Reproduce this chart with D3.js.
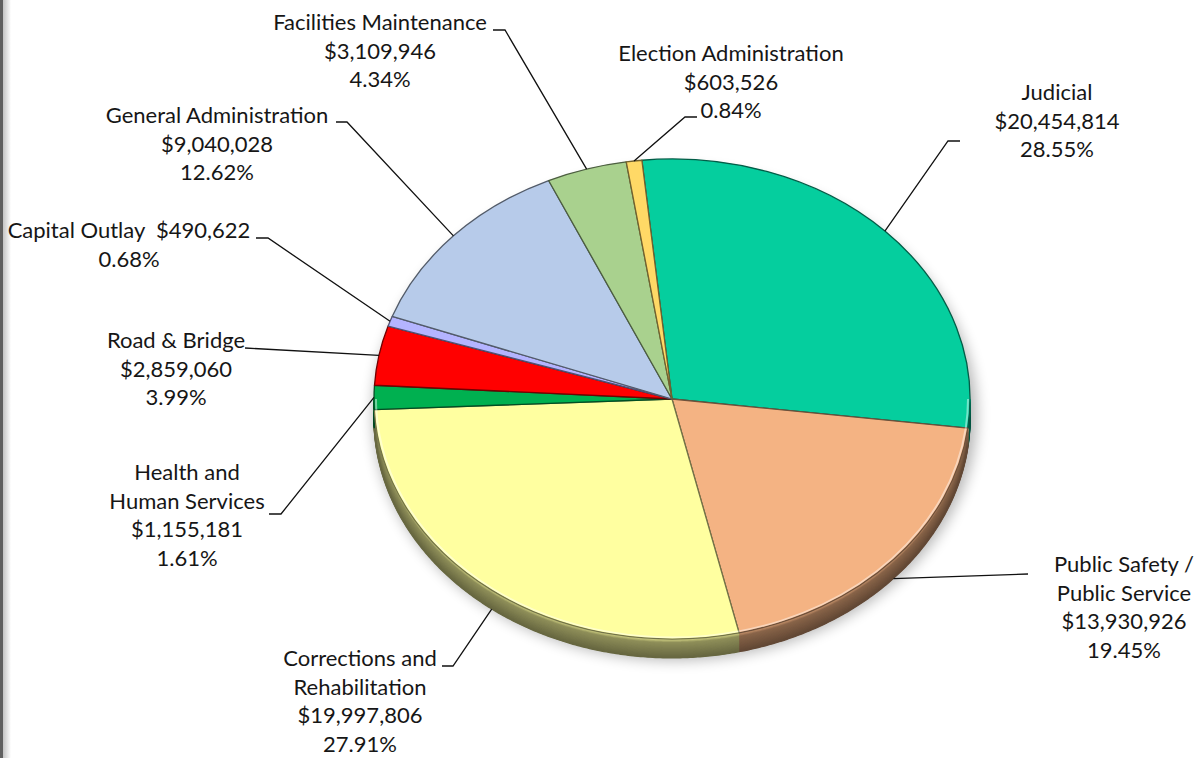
<!DOCTYPE html>
<html>
<head>
<meta charset="utf-8">
<script src="https://cdn.jsdelivr.net/npm/d3@7"></script>
<style>
  body { margin: 0; background: #fff; }
  svg { display: block; }
  text { font-family: Lato, "Open Sans", sans-serif; font-size: 22px; fill: #161616; }
</style>
</head>
<body>
<svg id="chart" width="1195" height="758"></svg>
<script>
// Budget by function
const categories = [
  "Judicial", "Public Safety / Public Service", "Corrections and Rehabilitation",
  "Health and Human Services", "Road & Bridge", "Capital Outlay",
  "General Administration", "Facilities Maintenance", "Election Administration"
];
const amounts = [20454814, 13930926, 19997806, 1155181, 2859060, 490622, 9040028, 3109946, 603526];
const colors = ["#05CE9E", "#F4B383", "#FFFFA0", "#00B050", "#FF0000", "#B4B4FF", "#B7CBEA", "#A9D18E", "#FFD966"];

// How each category name wraps in its label
const labelLines = [
  ["Judicial"], ["Public Safety /", "Public Service"], ["Corrections and", "Rehabilitation"],
  ["Health and", "Human Services"], ["Road & Bridge"], ["Capital Outlay"],
  ["General Administration"], ["Facilities Maintenance"], ["Election Administration"]
];

// Label anchors (centre x, first baseline) and leader elbows
const labelLayout = [
  { x: 1057, y: 100, leader: [[960, 141], [948, 141]] },
  { x: 1124, y: 572, leader: [[1028, 574]] },
  { x: 360,  y: 666, leader: [[442, 666], [453, 666]] },
  { x: 187,  y: 480, leader: [[269, 514], [281, 514]] },
  { x: 176,  y: 348, leader: [[245, 348]] },
  { x: 129,  y: 238, inline: true, leader: [[256, 238], [268, 238]] },
  { x: 217,  y: 123, leader: [[336, 122], [347, 122]] },
  { x: 380,  y: 30,  leader: [[493, 30], [505, 30]] },
  { x: 731,  y: 61,  leader: [[697, 117], [685, 117]] }
];

const W = 1195, H = 758;
const cx = 672, cy = 399, rx = 298, ry = 240, depth = 19;
const lineH = 28.5;
const firstAngle = -5.8 * Math.PI / 180;

const svg = d3.select("#chart");
const defs = svg.append("defs");

// left frame edge
const edgeGrad = defs.append("linearGradient").attr("id", "edgeGrad");
edgeGrad.append("stop").attr("offset", 0).attr("stop-color", "#c4c4c4");
edgeGrad.append("stop").attr("offset", 1).attr("stop-color", "#ffffff");
svg.append("rect").attr("x", 3).attr("y", 0).attr("width", 8).attr("height", H).attr("fill", "url(#edgeGrad)");
svg.append("rect").attr("x", 0).attr("y", 0).attr("width", 3).attr("height", H).attr("fill", "#606060");

const total = d3.sum(amounts);
const money = d3.format("$,");
const pct = d3.format(".2%");

const data = amounts.map((v, i) => ({ name: categories[i], value: v, color: colors[i], i }));
const arcs = d3.pie().sort(null).value(d => d.value)
  .startAngle(firstAngle).endAngle(firstAngle + 2 * Math.PI)(data);

const pt = (a, dy = 0) => [cx + rx * Math.sin(a), cy - ry * Math.cos(a) + dy];

// soft shadow under the disc
const blur = defs.append("filter").attr("id", "shadow").attr("x", "-20%").attr("y", "-20%").attr("width", "140%").attr("height", "140%");
blur.append("feGaussianBlur").attr("stdDeviation", 7);
svg.append("ellipse")
  .attr("cx", cx + 3).attr("cy", cy + depth * 0.6 + 4)
  .attr("rx", rx + 4).attr("ry", ry + 6)
  .attr("fill", "#000").attr("opacity", 0.28).attr("filter", "url(#shadow)");

// outer wall of the front half, shaded from a light rim to a dark base
const wallG = svg.append("g");
const line = d3.line();
arcs.forEach(a => {
  const lo = Math.max(a.startAngle, Math.PI / 2);
  const hi = Math.min(a.endAngle, 3 * Math.PI / 2);
  if (hi <= lo) return;
  const n = Math.max(2, Math.ceil((hi - lo) * 120));
  const angles = d3.range(n + 1).map(k => lo + (hi - lo) * k / n);
  const shade = d3.interpolateRgb(a.data.color, "#000");
  const top = angles.map(t => pt(t));
  const bottom = angles.map(t => pt(t, depth)).reverse();
  wallG.append("path").attr("d", line(top.concat(bottom)) + "Z").attr("fill", shade(0.55));
  for (let k = 0; k <= depth; k += 0.75) {
    const f = k / depth;
    const s = f < 0.2 ? 0.12 + f * 1.6 : 0.44 + (f - 0.2) * 0.2;
    wallG.append("path")
      .attr("d", line(angles.map(t => pt(t, k))))
      .attr("fill", "none").attr("stroke", shade(s)).attr("stroke-width", 1.5);
  }
});

// top faces
const topG = svg.append("g").attr("transform", `translate(${cx},${cy}) scale(1,${ry / rx})`);
const arcGen = d3.arc().innerRadius(0).outerRadius(rx);
topG.selectAll("path.slice").data(arcs).join("path")
  .attr("class", "slice")
  .attr("d", arcGen)
  .attr("fill", d => d.data.color)
  .attr("stroke", d => d3.interpolateRgb(d.data.color, "#000")(0.55))
  .attr("stroke-width", 1.3)
  .attr("stroke-linejoin", "round")
  .attr("vector-effect", "non-scaling-stroke");

// light bevel along the front rim
const rimArc = d3.arc().innerRadius(rx - 3).outerRadius(rx - 1);
topG.selectAll("path.rim").data(arcs).join("path")
  .attr("class", "rim")
  .attr("d", d => rimArc({
    startAngle: Math.max(d.startAngle, Math.PI / 2),
    endAngle: Math.max(Math.max(d.startAngle, Math.PI / 2), Math.min(d.endAngle, 3 * Math.PI / 2))
  }))
  .attr("fill", "#fff").attr("opacity", 0.45);

// leader lines
const leaderG = svg.append("g");
arcs.forEach((a, i) => {
  const mid = (a.startAngle + a.endAngle) / 2;
  const end = pt(mid, Math.cos(mid) < -0.3 ? depth : 0);
  const pts = labelLayout[i].leader.concat([end]);
  leaderG.append("path").attr("d", line(pts))
    .attr("fill", "none").attr("stroke", "#111").attr("stroke-width", 1.3);
});

// labels: name, amount, share
const labelG = svg.append("g");
arcs.forEach((a, i) => {
  const L = labelLayout[i];
  let lines;
  if (L.inline) {
    lines = [labelLines[i][0] + "\u00a0\u00a0" + money(a.data.value), pct(a.data.value / total)];
  } else {
    lines = labelLines[i].concat([money(a.data.value), pct(a.data.value / total)]);
  }
  const t = labelG.append("text").attr("text-anchor", "middle");
  lines.forEach((s, k) => {
    t.append("tspan").attr("x", L.x).attr("y", L.y + k * lineH).text(s);
  });
});
</script>
</body>
</html>
